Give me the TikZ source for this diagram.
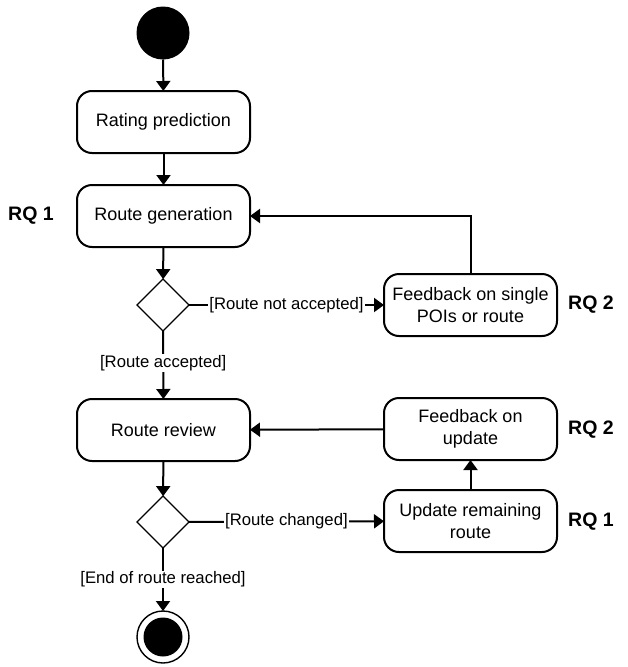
\documentclass[tikz,border=0pt]{standalone}
\usepackage{fontspec}
\setmainfont{Liberation Sans}
\usetikzlibrary{arrows.meta,shapes.geometric}
\begin{document}
\begin{tikzpicture}[x=1pt,y=-1pt,
  every node/.style={inner sep=0pt,outer sep=0pt},
  act/.style={draw,line width=2pt,rounded corners=15pt,minimum width=173pt,minimum height=62pt,align=center,font=\fontsize{18}{21.5}\selectfont},
  dec/.style={draw,line width=1.2pt,diamond,minimum width=52pt,minimum height=52pt,aspect=1},
  lbl/.style={font=\fontsize{16.7}{20}\selectfont,fill=white,inner sep=1pt},
  rq/.style={font=\bfseries\fontsize{19.5}{22}\selectfont},
  flow/.style={line width=2pt,-{Triangle[length=10pt,width=14pt]}}]
\useasboundingbox (0,0) rectangle (627,667);
\node[circle,fill=black,minimum size=53pt] (start) at (163,33) {};
\node[act] (rating) at (163.5,122) {Rating prediction};
\node[act] (gen) at (163.5,216) {Route generation};
\node[dec] (d1) at (163,305) {};
\node[act] (fb1) at (470.5,305) {Feedback on single\\POIs or route};
\node[act] (review) at (163.5,430) {Route review};
\node[act] (fb2) at (470.5,429) {Feedback on\\update};
\node[act] (upd) at (470.5,521) {Update remaining\\route};
\node[dec] (d2) at (163,522) {};
\node[circle,draw,line width=1.4pt,minimum size=52pt] (end) at (163,637) {};
\node[circle,fill=black,minimum size=39pt] (endin) at (end.center) {};
\node[rq] (rq1a) at (31,216) {RQ 1};
\node[rq] (rq2a) at (591,305) {RQ 2};
\node[rq] (rq2b) at (591,430) {RQ 2};
\node[rq] (rq1b) at (591,522) {RQ 1};
\draw[flow] (start) -- (rating);
\draw[flow] (rating) -- (gen);
\draw[flow] (gen) -- (d1);
\draw[flow] (d1) -- node[lbl] (lna) {[Route not accepted]} (fb1);
\draw[flow] (fb1.north) |- (gen.east);
\draw[flow] (d1) -- node[lbl,pos=0.47] (la) {[Route accepted]} (review);
\draw[flow] (review) -- (d2);
\draw[flow] (d2) -- node[lbl,pos=0.5] (lc) {[Route changed]} (upd);
\draw[flow] (upd) -- (fb2);
\draw[flow] (fb2) -- (review);
\draw[flow] (d2) -- node[lbl,pos=0.5] (le) {[End of route reached]} (end);
\end{tikzpicture}
\end{document}
